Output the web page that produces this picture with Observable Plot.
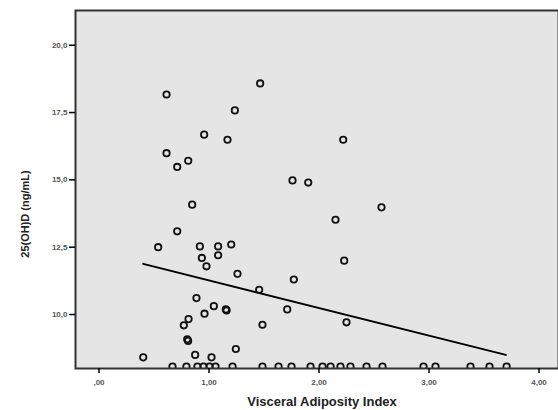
<!DOCTYPE html>
<html>
<head>
<meta charset="utf-8">
<script src="https://cdn.jsdelivr.net/npm/d3@7"></script>
<script src="https://cdn.jsdelivr.net/npm/@observablehq/plot@0.6"></script>
<style>
  html, body { margin: 0; padding: 0; background: #fff; }
  #chart svg { display: block; }
</style>
</head>
<body>
<div id="chart"></div>
<script>
// Visceral Adiposity Index (x) vs 25(OH)D ng/mL (y)
const vaiX = [0.614, 1.465, 1.235, 0.956, 1.168, 0.614, 0.811, 0.711, 0.847,
  2.22, 1.759, 1.902, 2.568, 2.15, 2.229,
  0.711, 0.538, 0.917, 1.083, 1.202, 0.935, 1.083, 0.977, 1.259, 1.456,
  0.886, 1.044, 1.153, 1.160, 0.959, 0.814, 0.771, 1.486, 0.802, 0.810,
  1.244, 0.874, 1.023, 0.402, 1.771, 1.711, 2.25];
const vitD = [18.17, 18.58, 17.58, 16.68, 16.49, 15.99, 15.71, 15.48, 14.08,
  16.49, 14.98, 14.90, 13.98, 13.52, 12.00,
  13.09, 12.50, 12.53, 12.53, 12.60, 12.10, 12.20, 11.79, 11.51, 10.92,
  10.61, 10.31, 10.19, 10.15, 10.03, 9.83, 9.60, 9.62, 9.08, 9.02,
  8.72, 8.50, 8.41, 8.41, 11.30, 10.19, 9.71];
// Points lying on the lower edge (values at/below the axis floor)
const floorX = [0.668, 0.795, 0.895, 0.95, 1.005, 1.059, 1.214, 1.486, 1.632,
  1.75, 1.923, 2.032, 2.105, 2.195, 2.286, 2.432, 2.577, 2.95, 3.059, 3.377,
  3.55, 3.705];
const floorY = 8.07;
// Fit line end points
const fitX = [0.402, 3.698];
const fitY = [11.88, 8.50];
const xTicks = [0, 1, 2, 3, 4];
const yTicks = [10, 12.5, 15, 17.5, 20];
const xLabel = "Visceral Adiposity Index";
const yLabel = "25(OH)D (ng/mL)";

const pts = vaiX.map((x, i) => ({x, y: vitD[i]}))
  .concat(floorX.map(x => ({x, y: floorY})));
const fit = fitX.map((x, i) => ({x, y: fitY[i]}));

const fmtX = v => d3.format(".2f")(v).replace(/^0\./, ".").replace(".", ",");
const fmtY = v => d3.format(".1f")(v).replace(".", ",");

const chart = Plot.plot({
  width: 558,
  height: 410,
  marginLeft: 75,
  marginRight: 0,
  marginTop: 10,
  marginBottom: 42,
  style: {background: "#fff", fontFamily: "Liberation Sans, Arial, sans-serif"},
  x: {domain: [-0.2136, 4.177]},
  y: {domain: [7.995, 21.29]},
  marks: [
    Plot.frame({fill: "#e5e5e5"}),
    Plot.line(fit, {x: "x", y: "y", stroke: "#000", strokeWidth: 2}),
    Plot.dot(pts, {x: "x", y: "y", r: 3.2, stroke: "#111", strokeWidth: 1.8, fill: "none", clip: "frame"}),
    Plot.frame({stroke: "#333", strokeWidth: 2}),
    Plot.axisX({ticks: xTicks, tickFormat: fmtX, tickSize: 5, tickPadding: 6,
      fontSize: 8, label: null, stroke: "#000", strokeWidth: 1.5}),
    Plot.axisY({ticks: yTicks, tickFormat: fmtY, tickSize: 6, tickPadding: 2,
      fontSize: 8, label: null, stroke: "#000", strokeWidth: 1.5})
  ]
});
document.getElementById("chart").appendChild(chart);

const svg = d3.select(chart);
svg.selectAll('[aria-label$="tick label"] text')
  .attr("font-weight", "bold").attr("fill", "#555");
svg.append("text")
  .attr("x", 322).attr("y", 406)
  .attr("text-anchor", "middle")
  .attr("font-family", "Liberation Sans Narrow, Liberation Sans, Arial, sans-serif")
  .attr("font-weight", "bold").attr("font-size", 13).attr("fill", "#222")
  .text(xLabel);
svg.append("text")
  .attr("transform", "translate(29,214) rotate(-90)")
  .attr("text-anchor", "middle")
  .attr("font-family", "Liberation Sans Narrow, Liberation Sans, Arial, sans-serif")
  .attr("font-weight", "bold").attr("font-size", 11).attr("fill", "#222")
  .text(yLabel);
</script>
</body>
</html>
